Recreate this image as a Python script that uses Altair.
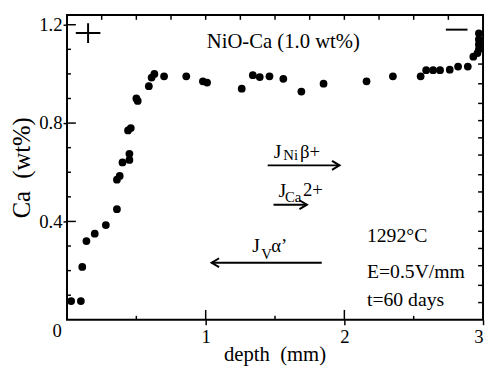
import altair as alt
import pandas as pd

# ---- data ----
depth = [0.03, 0.10, 0.11, 0.14, 0.20, 0.28, 0.36, 0.36, 0.38, 0.40, 0.45, 0.45,
         0.44, 0.46, 0.50, 0.51, 0.59, 0.61, 0.63, 0.70, 0.86, 0.98, 1.01, 1.26,
         1.34, 1.39, 1.46, 1.56, 1.69, 1.85, 2.16, 2.35, 2.55, 2.59, 2.64, 2.69,
         2.76, 2.82, 2.89, 2.93, 2.96, 2.97, 2.97, 2.97, 2.97]
ca = [0.076, 0.076, 0.215, 0.32, 0.35, 0.385, 0.45, 0.57, 0.585, 0.64, 0.65, 0.675,
      0.77, 0.78, 0.90, 0.89, 0.95, 0.985, 1.0, 0.99, 0.99, 0.97, 0.965, 0.94,
      0.995, 0.987, 0.99, 0.98, 0.928, 0.96, 0.97, 0.99, 0.99, 1.015, 1.015, 1.015,
      1.017, 1.03, 1.03, 1.07, 1.085, 1.10, 1.12, 1.14, 1.165]

x_labels = [1, 2, 3]
y_labels = [0.4, 0.8, 1.2]
x_minor_bottom = [0.5, 1.5, 2.5]
x_major_bottom = [1, 2]
x_top_ticks = [0.25, 0.5, 0.75, 1.0, 1.25, 1.5, 1.75, 2.0, 2.25, 2.5, 2.75]
y_minor_left = [0.1, 0.2, 0.3, 0.5, 0.6, 0.7, 0.9, 1.0, 1.1]
y_major_left = [0.4, 0.8, 1.2]
y_right_ticks = [1.04, 0.96, 0.88, 0.81, 0.74, 0.67, 0.59, 0.52, 0.44, 0.36,
                 0.29, 0.22, 0.14, 0.07]

# arrows: start, end, height
arr_x1 = [1.447, 1.489, 1.043]
arr_x2 = [1.965, 1.730, 1.837]
arr_y = [0.628, 0.468, 0.232]

# flux labels (text, depth, Ca, font size)
j_text = ["J", "Ni", "\u03b2+", "J", "Ca", "2+", "J", "V", "\u03b1\u2019"]
j_x = [1.490, 1.560, 1.680, 1.525, 1.572, 1.702, 1.335, 1.400, 1.472]
j_y = [0.660, 0.648, 0.660, 0.500, 0.480, 0.504, 0.276, 0.248, 0.276]
j_fs = [20, 15, 19, 20, 15, 19, 20, 15, 19]

cond_text = ["1292\u00b0C", "E=0.5V/mm", "t=60 days"]
cond_x = [2.163, 2.163, 2.163]
cond_y = [0.316, 0.168, 0.056]

title_text = ["NiO-Ca (1.0 wt%)"]
title_x = [1.56]
title_y = [1.104]

FONT = "Liberation Serif"
NB = "\u00a0"
XS = alt.Scale(domain=[0, 3], nice=False, zero=False)
YS = alt.Scale(domain=[0, 1.24], nice=False, zero=False)

AX = alt.Axis(
    values=x_labels, format="d", tickSize=5, tickWidth=1.5, tickColor="black",
    domain=False, grid=False, labelFont=FONT, labelFontSize=19,
    labelColor="black", labelPadding=18, labelBaseline="alphabetic",
    labelAlign={"condition": {"test": "datum.value == 3", "value": "right"},
                "value": "center"},
    labelFlush=False, labelOverlap=False,
    title="depth" + NB + NB + "(mm)", titleFont=FONT, titleFontSize=21,
    titleFontWeight="normal", titleColor="black", titleX=211, titleY=41,
    titleBaseline="alphabetic", titleAlign="center")
AY = alt.Axis(
    values=y_labels, format=".1f", tickSize=4, tickWidth=1.5, tickColor="black",
    domain=False, grid=False, labelFont=FONT, labelFontSize=19,
    labelColor="black", labelPadding=1, labelBaseline="middle",
    labelFlush=False, labelOverlap=False,
    title="Ca" + NB + NB + "(wt%)", titleFont=FONT, titleFontSize=25,
    titleFontWeight="normal", titleColor="black", titleX=-46, titleY=155,
    titleAngle=270, titleAlign="center", titleBaseline="middle")


def X(f):
    return alt.X(f, scale=XS, axis=AX)


def Y(f):
    return alt.Y(f, scale=YS, axis=AY)


pts = pd.DataFrame({"depth": depth, "ca": ca})
points = alt.Chart(pts).mark_circle(size=62, color="black", opacity=1).encode(
    x=X("depth:Q"), y=Y("ca:Q"))


def vtick(vals, at, off):
    df = pd.DataFrame({"v": vals})
    return alt.Chart(df).mark_rule(color="black", strokeWidth=1.5, y2Offset=off).encode(
        x=X("v:Q"),
        y=alt.YDatum(at, scale=YS, axis=AY),
        y2=alt.Y2Datum(at),
    )


def htick(vals, at, off):
    df = pd.DataFrame({"v": vals})
    return alt.Chart(df).mark_rule(color="black", strokeWidth=1.5, x2Offset=off).encode(
        y=Y("v:Q"),
        x=alt.XDatum(at, scale=XS, axis=AX),
        x2=alt.X2Datum(at),
    )


ticks = [
    vtick(x_minor_bottom, 0, -4),
    vtick(x_major_bottom, 0, -10),
    vtick(x_top_ticks, 1.24, 5),
    htick(y_minor_left, 0, 4),
    htick(y_major_left, 0, 9),
    htick(y_right_ticks, 3, -5),
]

arr = pd.DataFrame({"x1": arr_x1, "x2": arr_x2, "y": arr_y})
arrow_lines = alt.Chart(arr).mark_rule(color="black", strokeWidth=2).encode(
    x=X("x1:Q"), x2="x2:Q", y=Y("y:Q"))

right_heads = alt.Chart(arr.iloc[:2]).mark_point(
    shape="M-1,-0.6L0,0L-1,0.6", filled=False, color="black", strokeWidth=2,
    size=230, opacity=1).encode(x=X("x2:Q"), y=Y("y:Q"))
left_heads = alt.Chart(arr.iloc[2:]).mark_point(
    shape="M1,-0.6L0,0L1,0.6", filled=False, color="black", strokeWidth=2,
    size=230, opacity=1).encode(x=X("x1:Q"), y=Y("y:Q"))

jdf = pd.DataFrame({"t": j_text, "x": j_x, "y": j_y, "fs": j_fs})
jlabels = alt.Chart(jdf).mark_text(font=FONT, color="black", align="left",
                                    baseline="alphabetic").encode(
    x=X("x:Q"), y=Y("y:Q"),
    text="t:N", size=alt.Size("fs:Q", scale=None, legend=None))

cdf = pd.DataFrame({"t": cond_text, "x": cond_x, "y": cond_y})
conds = alt.Chart(cdf).mark_text(font=FONT, color="black", align="left",
                                 baseline="alphabetic", fontSize=20).encode(
    x=X("x:Q"), y=Y("y:Q"), text="t:N")

tdf = pd.DataFrame({"t": title_text, "x": title_x, "y": title_y})
ttl = alt.Chart(tdf).mark_text(font=FONT, color="black", align="center",
                               baseline="alphabetic", fontSize=21).encode(
    x=X("x:Q"), y=Y("y:Q"), text="t:N")

odf = pd.DataFrame({"t": ["0"], "x": [0.0], "y": [0.0]})
origin = alt.Chart(odf).mark_text(font=FONT, color="black", align="center",
                                  baseline="middle", fontSize=19, dx=-10, dy=12).encode(
    x=X("x:Q"), y=Y("y:Q"), text="t:N")

pdf = pd.DataFrame({"x": [0.152], "y": [1.166]})
plus = alt.Chart(pdf).mark_point(shape="M-1,0L1,0M0,-0.8L0,0.8", filled=False,
                                 color="black", strokeWidth=2, size=625, opacity=1).encode(
    x=X("x:Q"), y=Y("y:Q"))
mdf = pd.DataFrame({"x": [2.81], "y": [1.18]})
minus = alt.Chart(mdf).mark_point(shape="M-1,0L1,0", filled=False,
                                  color="black", strokeWidth=2, size=484, opacity=1).encode(
    x=X("x:Q"), y=Y("y:Q"))

chart = alt.layer(points, *ticks, arrow_lines, right_heads, left_heads, jlabels,
                  conds, ttl, origin, plus, minus).properties(
    width=423, height=310,
    autosize=alt.AutoSizeParams(type="none"),
    padding={"left": 60, "top": 4, "right": 2, "bottom": 45},
    background="white",
).configure_view(stroke="black", strokeWidth=2)

chart.save("out.html", embed_options={"renderer": "svg", "actions": False})
